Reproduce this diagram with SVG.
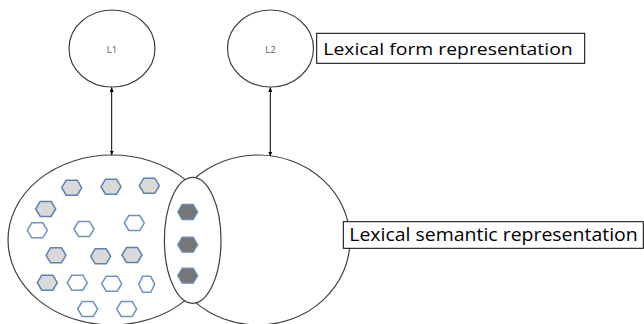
<svg xmlns="http://www.w3.org/2000/svg" width="644" height="324" viewBox="0 0 644 324">
  <defs>
    <style>
      .ring { fill: none; stroke: #404040; stroke-width: 1.2; }
      .core { fill: #ffffff; stroke: #404040; stroke-width: 1.2; }
      .box { fill: #ffffff; stroke: #000000; stroke-width: 1; }
      .lbl { font-family: "Open Sans", "Liberation Sans", sans-serif; fill: #000000; }
      .tag { font-family: "Open Sans", "Liberation Sans", sans-serif; font-size: 9.5px; fill: #595959; text-anchor: middle; }
      .link { stroke: #000000; stroke-width: 1; fill: none; marker-start: url(#tip); marker-end: url(#tip); }
      .hg { fill: #d9d9d9; stroke: #5b82b0; stroke-width: 1.5; }
      .hw { fill: #ffffff; stroke: #6e93c0; stroke-width: 1.5; }
      .hd { fill: #767676; stroke: #6a8fbd; stroke-width: 1.3; }
    </style>
    <marker id="tip" viewBox="0 0 10 10" refX="9" refY="5" markerWidth="5" markerHeight="5" orient="auto-start-reverse" markerUnits="userSpaceOnUse">
      <path d="M0,1 L10,5 L0,9 z" fill="#000000"/>
    </marker>
    <polygon id="hex" points="-10,0 -5.5,-7.5 5.5,-7.5 10,0 5.5,7.5 -5.5,7.5"/>
    <polygon id="hexn" points="-8,0 -4,-8 4,-8 8,0 4,8 -4,8"/>
  </defs>

  <!-- lexical form nodes -->
  <g id="node-L1">
    <ellipse class="ring" cx="112" cy="48.5" rx="43" ry="38.5"/>
    <text class="tag" x="112" y="53.3">L1</text>
  </g>
  <g id="node-L2">
    <ellipse class="ring" cx="270.5" cy="48.5" rx="43" ry="38.5"/>
    <text class="tag" x="270.5" y="53.3">L2</text>
  </g>

  <!-- label: form level -->
  <g id="label-form">
    <rect class="box" x="316.7" y="33.3" width="268" height="30"/>
    <text class="lbl" x="323.3" y="55" font-size="17" textLength="249.4" lengthAdjust="spacingAndGlyphs">Lexical form representation</text>
  </g>

  <!-- semantic stores -->
  <g id="node-sem-L1">
    <ellipse class="ring" cx="112" cy="240" rx="104" ry="85"/>
  </g>
  <g id="node-sem-L2">
    <ellipse class="ring" cx="258" cy="240" rx="92" ry="85"/>
  </g>
  <g id="node-shared">
    <ellipse class="core" cx="192.7" cy="240.3" rx="28.3" ry="63"/>
  </g>

  <!-- concept units in the L1 store -->
  <g id="units-L1">
    <use href="#hex" class="hg" x="71.7" y="187.7"/>
    <use href="#hex" class="hg" x="111" y="186.7"/>
    <use href="#hex" class="hg" x="149.3" y="185.7"/>
    <use href="#hex" class="hg" x="45.7" y="209"/>
    <use href="#hex" class="hw" x="37.3" y="230.3"/>
    <use href="#hex" class="hw" x="84" y="229"/>
    <use href="#hex" class="hw" x="134.3" y="223"/>
    <use href="#hex" class="hg" x="56" y="255.3"/>
    <use href="#hex" class="hg" x="100.7" y="256.3"/>
    <use href="#hex" class="hg" x="132" y="255"/>
    <use href="#hex" class="hg" x="47.3" y="282.7"/>
    <use href="#hex" class="hw" x="77.3" y="282.7"/>
    <use href="#hex" class="hw" x="111.7" y="283.7"/>
    <use href="#hexn" class="hw" x="146.7" y="284.3"/>
    <use href="#hex" class="hw" x="87.7" y="309"/>
    <use href="#hex" class="hw" x="126.7" y="309"/>
  </g>

  <!-- shared concept units -->
  <g id="units-shared">
    <use href="#hex" class="hd" x="187.7" y="212"/>
    <use href="#hex" class="hd" x="187.7" y="244.7"/>
    <use href="#hex" class="hd" x="187.7" y="275.7"/>
  </g>

  <!-- label: semantic level -->
  <g id="label-semantic">
    <rect class="box" x="343.3" y="221.7" width="300" height="26.6"/>
    <text class="lbl" x="349.3" y="240.7" font-size="18.5" textLength="288.4" lengthAdjust="spacingAndGlyphs">Lexical semantic representation</text>
  </g>

  <!-- form-to-meaning links -->
  <g id="connectors">
    <line class="link" x1="111.7" y1="87.5" x2="111.7" y2="155"/>
    <line class="link" x1="270.3" y1="87.5" x2="270.3" y2="156"/>
  </g>
</svg>
